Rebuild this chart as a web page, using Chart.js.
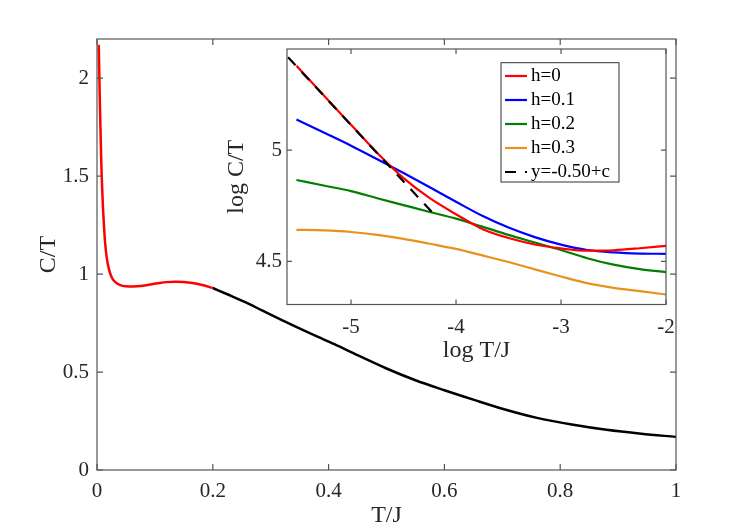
<!DOCTYPE html>
<html>
<head>
<meta charset="utf-8">
<script src="https://cdn.jsdelivr.net/npm/chart.js@4.4.1/dist/chart.umd.min.js"></script>
<style>
  body { margin: 0; background: #fff; }
  #wrap { position: relative; width: 747px; height: 531px; }
  #main { position: absolute; left: 0; top: 0; }
  #inset { position: absolute; left: 220px; top: 40px; }
</style>
</head>
<body>
<div id="wrap">
  <canvas id="main" width="747" height="531"></canvas>
  <canvas id="inset" width="456" height="330"></canvas>
</div>
<script>
// main plot: C/T against T/J (red part at low T, black above 0.2)
var lowT  = [0.003, 0.004, 0.005, 0.006, 0.007, 0.008, 0.010, 0.012, 0.014, 0.017, 0.021, 0.026,
             0.032, 0.040, 0.050, 0.062, 0.075, 0.090, 0.105, 0.120, 0.135, 0.150, 0.165, 0.180, 0.200];
var lowCT = [2.17, 2.02, 1.87, 1.74, 1.62, 1.51, 1.36, 1.25, 1.16, 1.08, 1.02, 0.98,
             0.958, 0.944, 0.938, 0.937, 0.939, 0.946, 0.953, 0.959, 0.961, 0.960, 0.955, 0.946, 0.929];
var highT  = [0.2, 0.225, 0.255, 0.285, 0.315, 0.345, 0.375, 0.41, 0.45, 0.5, 0.55, 0.6,
              0.65, 0.7, 0.76, 0.82, 0.88, 0.94, 1.0];
var highCT = [0.929, 0.897, 0.858, 0.815, 0.772, 0.729, 0.688, 0.642, 0.586, 0.518, 0.458, 0.407,
              0.359, 0.313, 0.266, 0.232, 0.205, 0.185, 0.169];
var mainXTicks = [0, 0.2, 0.4, 0.6, 0.8, 1];
var mainYTicks = [0, 0.5, 1, 1.5, 2];

// inset: log C/T against log T/J for several h
var logT   = [-5.52, -5.25, -5.0, -4.75, -4.5, -4.25, -4.0, -3.75, -3.5, -3.25, -3.0, -2.75, -2.5, -2.25, -2.0];
var h0CT   = [5.380, 5.241, 5.114, 4.987, 4.874, 4.784, 4.712, 4.646, 4.605, 4.576, 4.558, 4.548, 4.550, 4.559, 4.570];
var h01CT  = [5.138, 5.077, 5.020, 4.959, 4.897, 4.833, 4.768, 4.705, 4.652, 4.609, 4.575, 4.551, 4.540, 4.535, 4.534];
var h02CT  = [4.866, 4.840, 4.816, 4.784, 4.753, 4.722, 4.692, 4.656, 4.619, 4.585, 4.551, 4.514, 4.485, 4.465, 4.452];
var h03CT  = [4.642, 4.639, 4.632, 4.619, 4.601, 4.579, 4.556, 4.527, 4.497, 4.464, 4.432, 4.402, 4.381, 4.366, 4.351];
var fitT   = [-5.6, -4.23];
var fitCT  = [5.418, 4.722];
var seriesNames = ['h=0', 'h=0.1', 'h=0.2', 'h=0.3', 'y=-0.50+c'];
var insetXTicks = [-5, -4, -3, -2];
var insetYTicks = [4.5, 5];

var FONT = 'Liberation Serif';
var TEXT = '#262626';

function pts(xs, ys) {
  return xs.map(function (x, i) { return { x: x, y: ys[i] }; });
}

// box round the plot area with inward ticks on all four sides
var framePlugin = {
  id: 'frame',
  beforeDraw: function (chart, args, o) {
    if (!o.fill) return;
    var a = chart.chartArea, ctx = chart.ctx;
    ctx.save();
    ctx.fillStyle = o.fill;
    ctx.fillRect(a.left, a.top, a.right - a.left, a.bottom - a.top);
    ctx.restore();
  },
  afterDatasetsDraw: function (chart, args, o) {
    var a = chart.chartArea, ctx = chart.ctx;
    var xs = chart.scales.x, ys = chart.scales.y;
    ctx.save();
    ctx.strokeStyle = o.color;
    ctx.lineWidth = o.width;
    ctx.strokeRect(a.left, a.top, a.right - a.left, a.bottom - a.top);
    ctx.beginPath();
    xs.ticks.forEach(function (t) {
      var p = xs.getPixelForValue(t.value);
      ctx.moveTo(p, a.bottom); ctx.lineTo(p, a.bottom - o.tick);
      ctx.moveTo(p, a.top); ctx.lineTo(p, a.top + o.tick);
    });
    ys.ticks.forEach(function (t) {
      var p = ys.getPixelForValue(t.value);
      ctx.moveTo(a.left, p); ctx.lineTo(a.left + o.tick, p);
      ctx.moveTo(a.right, p); ctx.lineTo(a.right - o.tick, p);
    });
    ctx.stroke();
    ctx.restore();
  }
};

// legend box inside the inset
var boxLegend = {
  id: 'boxLegend',
  afterDraw: function (chart, args, o) {
    if (!o.show) return;
    var ctx = chart.ctx;
    ctx.save();
    ctx.fillStyle = '#fff';
    ctx.fillRect(o.left, o.top, o.width, o.height);
    ctx.strokeStyle = '#333';
    ctx.lineWidth = 1;
    ctx.strokeRect(o.left, o.top, o.width, o.height);
    ctx.font = o.size + 'px "' + FONT + '"';
    ctx.textBaseline = 'middle';
    chart.data.datasets.forEach(function (ds, i) {
      var yy = o.top + o.first + i * o.step;
      ctx.strokeStyle = ds.borderColor;
      ctx.lineWidth = ds.borderWidth;
      ctx.setLineDash(ds.borderDash || []);
      ctx.beginPath();
      ctx.moveTo(o.left + 4, yy);
      ctx.lineTo(o.left + 26, yy);
      ctx.stroke();
      ctx.setLineDash([]);
      ctx.fillStyle = '#000';
      ctx.fillText(ds.label, o.left + 30, yy);
    });
    ctx.restore();
  }
};

Chart.register(framePlugin, boxLegend);

function axis(min, max, ticks, size, pad, title, tpad, horizontal) {
  return {
    type: 'linear',
    min: min,
    max: max,
    afterBuildTicks: function (s) { s.ticks = ticks.map(function (v) { return { value: v }; }); },
    afterFit: function (s) {
      if (horizontal) s.height = size; else s.width = size;
      // labels never sit on the plot edges, so no extra room is needed
      s.paddingLeft = 0; s.paddingRight = 0; s.paddingTop = 0; s.paddingBottom = 0;
    },
    grid: { display: false, drawTicks: false },
    border: { display: false },
    ticks: {
      color: TEXT, padding: pad, maxRotation: 0, autoSkip: false,
      font: { family: FONT, size: 21 },
      callback: function (v) { return String(v); }
    },
    title: {
      display: true, text: title, color: TEXT,
      font: { family: FONT, size: 24, lineHeight: 1 },
      padding: tpad
    }
  };
}

new Chart(document.getElementById('main'), {
  type: 'scatter',
  data: {
    datasets: [
      { data: pts(lowT, lowCT), borderColor: '#ff0000', borderWidth: 2.5, showLine: true,
        pointRadius: 0, cubicInterpolationMode: 'monotone' },
      { data: pts(highT, highCT), borderColor: '#000000', borderWidth: 2.5, showLine: true,
        pointRadius: 0, cubicInterpolationMode: 'monotone' }
    ]
  },
  options: {
    responsive: false,
    animation: false,
    layout: { padding: { left: 0, top: 39, right: 71, bottom: 0 } },
    scales: {
      x: axis(0, 1, mainXTicks, 61, 9, 'T/J', { top: 0, bottom: 3 }, true),
      y: axis(0, 2.2, mainYTicks, 97, 8, 'C/T', { top: 37, bottom: 0 }, false)
    },
    plugins: {
      legend: { display: false },
      tooltip: { enabled: false },
      frame: { color: '#555', width: 1.2, tick: 6 }
    }
  }
});

var insetColors = ['#ff0000', '#0000ff', '#008000', '#e8921c'];
var insetSeries = [h0CT, h01CT, h02CT, h03CT];
var insetSets = insetSeries.map(function (ys, i) {
  return { label: seriesNames[i], data: pts(logT, ys), borderColor: insetColors[i], borderWidth: 2.2,
           showLine: true, pointRadius: 0, cubicInterpolationMode: 'monotone', order: i + 1 };
});
insetSets.push({ label: seriesNames[4], data: pts(fitT, fitCT), borderColor: '#000000', borderWidth: 2.2,
                 borderDash: [11, 9], showLine: true, pointRadius: 0, order: 0 });

new Chart(document.getElementById('inset'), {
  type: 'scatter',
  data: { datasets: insetSets },
  options: {
    responsive: false,
    animation: false,
    layout: { padding: { left: 0, top: 9, right: 10, bottom: 0 } },
    scales: {
      x: axis(-5.61, -2, insetXTicks, 65.5, 10, 'log T/J', { top: 0, bottom: 7 }, true),
      y: axis(4.306, 5.455, insetYTicks, 67, 5, 'log C/T', { top: 5, bottom: 0 }, false)
    },
    plugins: {
      legend: { display: false },
      tooltip: { enabled: false },
      frame: { color: '#555', width: 1.2, tick: 5, fill: '#ffffff' },
      boxLegend: { show: true, left: 281, top: 22.7, width: 118, height: 119.3, first: 13.3, step: 24, size: 19 }
    }
  }
});
</script>
</body>
</html>
